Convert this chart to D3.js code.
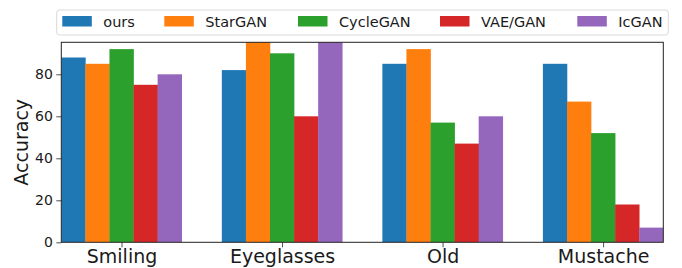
<!DOCTYPE html>
<html>
<head>
<meta charset="utf-8">
<script src="https://cdn.jsdelivr.net/npm/d3@7"></script>
<style>
  body { margin: 0; background: #fff; }
  text { font-family: "DejaVu Sans", sans-serif; fill: #1a1a1a; }
</style>
</head>
<body>
<svg id="chart" width="682" height="268"></svg>
<script>
const categories = ["Smiling", "Eyeglasses", "Old", "Mustache"];
const methods = ["ours", "StarGAN", "CycleGAN", "VAE/GAN", "IcGAN"];
const colors = ["#1f77b4", "#ff7f0e", "#2ca02c", "#d62728", "#9467bd"];
// accuracy per method, in category order
const ours = [88, 82, 85, 85];
const starGAN = [85, 98, 92, 67];
const cycleGAN = [92, 90, 57, 52];
const vaeGAN = [75, 60, 47, 18];
const icGAN = [80, 98, 60, 7];
const yTicks = [0, 20, 40, 60, 80];

const seriesValues = [ours, starGAN, cycleGAN, vaeGAN, icGAN];

const margin = { top: 42.3, right: 18.7, bottom: 25.7, left: 61.3 };
const width = 682 - margin.left - margin.right;
const height = 268 - margin.top - margin.bottom;

const svg = d3.select("#chart");
const g = svg.append("g")
    .attr("transform", `translate(${margin.left}, ${margin.top})`);

const barW = 0.15;
const n = categories.length;
// index scale, axis ends at outer bar edges
const xi = d3.scaleLinear()
    .domain([-2.5 * barW, n - 1 + 2.5 * barW])
    .range([0, width]);
const xCat = d3.scalePoint()
    .domain(categories)
    .range([xi(0), xi(n - 1)]);
const y = d3.scaleLinear().domain([0, 95.24]).range([height, 0]);

g.append("clipPath").attr("id", "clip")
    .append("rect").attr("width", width).attr("height", height);

const bars = [];
categories.forEach((c, ci) => {
    methods.forEach((m, mi) => bars.push({ ci, mi, v: seriesValues[mi][ci] }));
});

g.append("g").attr("clip-path", "url(#clip)")
    .selectAll("rect")
    .data(bars)
    .join("rect")
    .attr("x", d => xi(d.ci + (d.mi - 2.5) * barW))
    .attr("y", d => y(d.v))
    .attr("width", xi(barW) - xi(0) + 0.3)
    .attr("height", d => height - y(d.v))
    .attr("fill", d => colors[d.mi]);

const yAxis = g.append("g")
    .call(d3.axisLeft(y).tickValues(yTicks).tickSize(5).tickPadding(3.5));
yAxis.selectAll("text").style("font-size", "14px");

const xAxis = g.append("g")
    .attr("transform", `translate(0, ${height})`)
    .call(d3.axisBottom(xCat).tickSize(5).tickPadding(2));
xAxis.selectAll("text").style("font-size", "19px");

[yAxis, xAxis].forEach(a => {
    a.select(".domain").remove();
    a.selectAll("line").attr("stroke", "#222").attr("stroke-width", 0.8);
});

g.append("rect")
    .attr("width", width).attr("height", height)
    .attr("fill", "none").attr("stroke", "#222").attr("stroke-width", 1);

svg.append("text")
    .attr("transform", `translate(28, ${margin.top + height / 2}) rotate(-90)`)
    .attr("text-anchor", "middle")
    .style("font-size", "19px")
    .text("Accuracy");

// legend
const legend = svg.append("g");
legend.append("rect")
    .attr("x", 56.7).attr("y", 10)
    .attr("width", 611.6).attr("height", 25)
    .attr("rx", 3)
    .attr("fill", "#fff")
    .attr("stroke", "#d9d9d9").attr("stroke-width", 1);

const legendX = [62.3, 164.3, 298, 440, 577.3];
methods.forEach((m, i) => {
    legend.append("rect")
        .attr("x", legendX[i]).attr("y", 16)
        .attr("width", 29.5).attr("height", 10.5)
        .attr("fill", colors[i]);
    legend.append("text")
        .attr("x", legendX[i] + 41).attr("y", 27)
        .style("font-size", "14.5px")
        .text(m);
});
</script>
</body>
</html>
